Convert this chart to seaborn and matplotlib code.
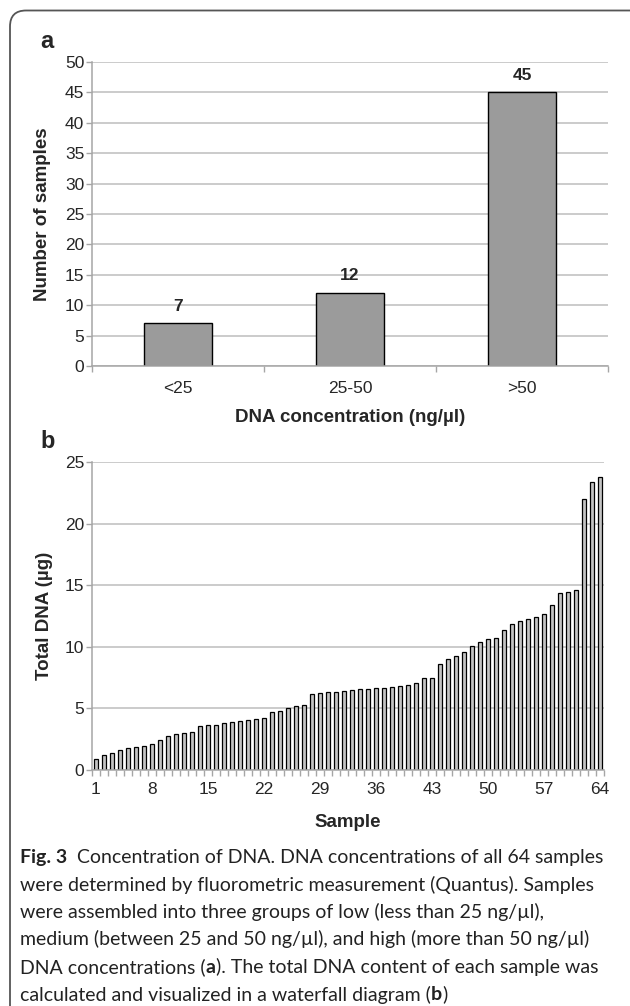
import numpy as np
import pandas as pd
import seaborn as sns
import matplotlib.pyplot as plt
from matplotlib.patches import FancyBboxPatch
from matplotlib.transforms import IdentityTransform

# panel a: samples per concentration group
groups = ["<25", "25-50", ">50"]
group_counts = [7, 12, 45]

# panel b: total DNA per sample (sorted, waterfall)
samples = list(range(1, 65))
total_dna = [0.89, 1.22, 1.38, 1.60, 1.81, 1.84, 1.95, 2.11, 2.41, 2.74,
             2.93, 3.01, 3.09, 3.55, 3.63, 3.68, 3.84, 3.87, 3.95, 4.06,
             4.14, 4.25, 4.71, 4.82, 5.01, 5.23, 5.25, 6.20, 6.26, 6.31,
             6.34, 6.39, 6.47, 6.55, 6.58, 6.64, 6.69, 6.74, 6.85, 6.91,
             7.04, 7.48, 7.50, 8.61, 9.02, 9.29, 9.56, 10.05, 10.37, 10.62,
             10.70, 11.40, 11.86, 12.08, 12.27, 12.41, 12.65, 13.41, 14.33, 14.46,
             14.60, 21.99, 23.37, 23.78]
sample_ticks = [1, 8, 15, 22, 29, 36, 43, 50, 57, 64]

sns.set_style("white")
plt.rcParams["font.family"] = ["Liberation Sans", "DejaVu Sans"]

W, H = 630, 1006
fig = plt.figure(figsize=(W / 100, H / 100), dpi=100)

grid_c = "#bdbdbd"
spine_c = "#a6a6a6"
tick_fs = 12.5
lab_fs = 13.5


def style_axis(ax):
    ax.yaxis.grid(True, color=grid_c, lw=1.1)
    ax.set_axisbelow(True)
    for s in ["top", "right"]:
        ax.spines[s].set_visible(False)
    for s in ["left", "bottom"]:
        ax.spines[s].set_color(spine_c)
        ax.spines[s].set_linewidth(1.1)
    ax.tick_params(axis="y", which="major", direction="out", length=4, width=1,
                   color=spine_c, labelsize=tick_fs, pad=1.5, left=True)
    ax.tick_params(axis="x", which="minor", direction="out", length=4, width=1,
                   color=spine_c, bottom=True)


# ---- panel a
ax1 = fig.add_axes([92 / W, 1 - 366 / H, 516 / W, 304 / H])
df_a = pd.DataFrame({"group": groups, "n": group_counts})
sns.barplot(data=df_a, x="group", y="n", color="#9b9b9b", saturation=1,
            edgecolor="black", linewidth=1, width=0.4, ax=ax1)
ax1.set_xlim(-0.5, 2.5)
ax1.set_ylim(0, 50)
ax1.set_yticks(range(0, 51, 5))
style_axis(ax1)
ax1.set_xticks(np.arange(-0.5, 3, 1), minor=True)
ax1.tick_params(axis="x", which="major", length=0, labelsize=tick_fs, pad=10.5)
for i, v in enumerate(group_counts):
    ax1.annotate(str(v), (i, v), xytext=(0, 7), textcoords="offset points",
                 ha="center", va="bottom", fontsize=12.5, fontweight="bold")
ax1.set_xlabel("DNA concentration (ng/µl)", fontsize=lab_fs, fontweight="bold")
ax1.set_ylabel("Number of samples", fontsize=lab_fs, fontweight="bold")
ax1.xaxis.set_label_coords(0.5, -0.143)
ax1.yaxis.set_label_coords(-0.080, 0.5)

# ---- panel b
ax2 = fig.add_axes([92 / W, 1 - 770 / H, 512 / W, 308 / H])
df_b = pd.DataFrame({"sample": samples, "dna": total_dna})
sns.barplot(data=df_b, x="sample", y="dna", color="#c4c4c4", saturation=1,
            edgecolor="black", linewidth=0.9, width=0.5, ax=ax2)
ax2.set_xlim(-0.5, 63.5)
ax2.set_ylim(0, 25)
ax2.set_yticks(range(0, 26, 5))
style_axis(ax2)
ax2.set_xticks([s - 1 for s in sample_ticks])
ax2.set_xticklabels([str(s) for s in sample_ticks])
ax2.set_xticks(np.arange(-0.5, 64, 1), minor=True)
ax2.tick_params(axis="x", which="major", length=0, labelsize=tick_fs, pad=8.5)
ax2.set_xlabel("Sample", fontsize=lab_fs, fontweight="bold")
ax2.set_ylabel("Total DNA (µg)", fontsize=lab_fs, fontweight="bold")
ax2.xaxis.set_label_coords(0.5, -0.143)
ax2.yaxis.set_label_coords(-0.076, 0.5)

# panel letters
fig.text(47 / W, 1 - 42 / H, "a", fontsize=17, fontweight="bold", ha="center", va="center")
fig.text(48 / W, 1 - 442 / H, "b", fontsize=17, fontweight="bold", ha="center", va="center")

# rounded frame (only top/left visible)
frame = FancyBboxPatch((10, -40), 660, H - 10.5 + 40, boxstyle="round,pad=0,rounding_size=16",
                       transform=IdentityTransform(), fill=False, ec="#555555", lw=1.3,
                       clip_on=False)
fig.patches.append(frame)

# caption
cap_font = ["Lato", "DejaVu Sans"]
cap_size = 14
caption = [
    [("Fig. 3", "bold"), ("  ", None), ("Concentration of DNA. DNA concentrations of all 64 samples", "normal")],
    [("were determined by fluorometric measurement (Quantus). Samples", "normal")],
    [("were assembled into three groups of low (less than 25 ng/µl),", "normal")],
    [("medium (between 25 and 50 ng/µl), and high (more than 50 ng/µl)", "normal")],
    [("DNA concentrations (", "normal"), ("a", "bold"), ("). The total DNA content of each sample was", "normal")],
    [("calculated and visualized in a waterfall diagram (", "normal"), ("b", "bold"), (")", "normal")],
]
baselines = [863, 890.5, 918, 945.5, 973, 1000.5]

fig.canvas.draw()
renderer = fig.canvas.get_renderer()


def txt_width(s, weight):
    t = fig.text(0, 0, s, family=cap_font, fontsize=cap_size, fontweight=weight)
    w = t.get_window_extent(renderer).width
    t.remove()
    return w


space_w = txt_width("a a", "normal") - txt_width("aa", "normal")

for parts, yb in zip(caption, baselines):
    x = 20.0
    for s, weight in parts:
        if weight is None:
            x += space_w * len(s)
            continue
        t = fig.text(x / W, 1 - yb / H, s, family=cap_font, fontsize=cap_size,
                     fontweight=weight, va="baseline", color="#222222")
        x += t.get_window_extent(renderer).width

fig.savefig("out.png", dpi=100)
